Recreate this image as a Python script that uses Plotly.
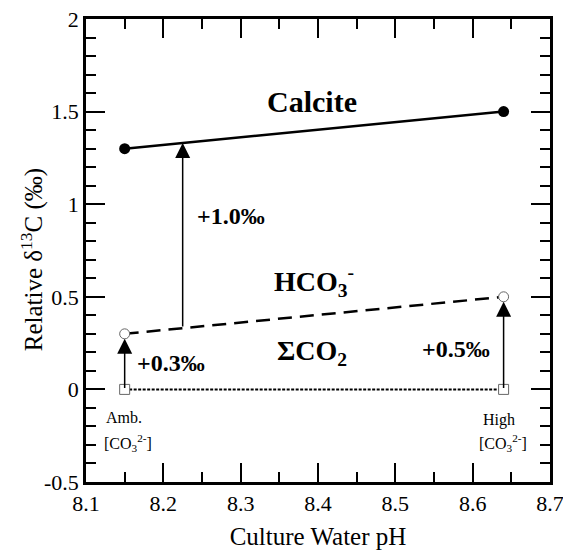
import plotly.graph_objects as go

ph = [8.15, 8.64]
calcite = [1.3, 1.5]
hco3 = [0.3, 0.5]
sco2 = [0.0, 0.0]

x_ticks = [8.1, 8.2, 8.3, 8.4, 8.5, 8.6, 8.7]
y_ticks = [-0.5, 0, 0.5, 1, 1.5, 2]
y_tick_text = ["-0.5", "0", "0.5", "1", "1.5", "2"]

arrows = [
    # (x, y_from, y_to, standoff)
    (8.15, 0.0, 0.3, 5),
    (8.64, 0.0, 0.5, 5),
    (8.225, 0.331, 1.331, 0),
]

FONT = "Liberation Serif, Times New Roman, serif"

fig = go.Figure()
fig.add_trace(go.Scatter(x=ph, y=sco2, mode="lines+markers",
                         line=dict(color="black", width=2, dash="3px,1.5px"),
                         marker=dict(symbol="square", size=10, color="white",
                                     line=dict(width=1, color="#666")),
                         showlegend=False))
fig.add_trace(go.Scatter(x=ph, y=hco3, mode="lines+markers",
                         line=dict(color="black", width=2.5, dash="14px,8px"),
                         marker=dict(symbol="circle", size=10, color="white",
                                     line=dict(width=1, color="#666")),
                         showlegend=False))
fig.add_trace(go.Scatter(x=ph, y=calcite, mode="lines+markers",
                         line=dict(color="black", width=2.5),
                         marker=dict(symbol="circle", size=11, color="black"),
                         showlegend=False))

for x, y0, y1, so in arrows:
    fig.add_annotation(x=x, y=y1, ax=x, ay=y0, xref="x", yref="y", axref="x", ayref="y",
                       text="", showarrow=True, arrowhead=2, arrowsize=2,
                       arrowwidth=1.5, arrowcolor="black", standoff=so)

texts = [
    (8.392, 1.555, "<b>Calcite</b>", 30, "center"),
    (8.241, 0.935, "<b>+1.0‰</b>", 24, "left"),
    (8.340, 0.585, "<b>HCO<sub>3</sub><sup>-</sup></b>", 28, "left"),
    (8.163, 0.14, "<b>+0.3‰</b>", 24, "left"),
    (8.344, 0.20, "<b>ΣCO<sub>2</sub></b>", 28, "left"),
    (8.532, 0.22, "<b>+0.5‰</b>", 24, "left"),
    (8.149, -0.15, "Amb.", 16, "center"),
    (8.154, -0.29, "[CO<sub>3</sub><sup>2-</sup>]", 16, "center"),
    (8.634, -0.167, "High", 16, "center"),
    (8.639, -0.29, "[CO<sub>3</sub><sup>2-</sup>]", 16, "center"),
]
for x, y, t, s, al in texts:
    fig.add_annotation(x=x, y=y, xref="x", yref="y", text=t, showarrow=False,
                       font=dict(family=FONT, size=s, color="black"),
                       xanchor=al, yanchor="middle")

# y-axis title placed as a rotated annotation to match the reference position
fig.add_annotation(x=0, y=0.479, xref="paper", yref="paper", xshift=-54,
                   text="Relative δ<sup>13</sup>C (‰)", textangle=-90, showarrow=False,
                   font=dict(family=FONT, size=25, color="black"),
                   xanchor="center", yanchor="middle")

axis_common = dict(showgrid=False, zeroline=False, showline=True, linecolor="black",
                   linewidth=2.5, mirror="ticks", ticks="inside", ticklen=19, tickwidth=2,
                   tickcolor="black", tickfont=dict(family=FONT, size=22, color="black"),
                   automargin=False, ticklabeloverflow="allow")

fig.update_xaxes(range=[8.1, 8.7], tickvals=x_ticks, tickformat=".1f",
                 minor=dict(dtick=0.05, tick0=8.1, ticks="inside", ticklen=10,
                            tickwidth=2, tickcolor="black", showgrid=False),
                 title=dict(text="Culture Water pH", font=dict(family=FONT, size=25, color="black"),
                            standoff=14),
                 **axis_common)
fig.update_yaxes(range=[-0.5, 2], tickvals=y_ticks, ticktext=y_tick_text,
                 minor=dict(dtick=0.1, tick0=0, ticks="inside", ticklen=10,
                            tickwidth=2, tickcolor="black", showgrid=False),
                 **axis_common)

fig.update_layout(width=563, height=550, margin=dict(l=86, r=13, t=19, b=68),
                  plot_bgcolor="white", paper_bgcolor="white",
                  font=dict(family=FONT, color="black"))

fig.write_html("out.html")
